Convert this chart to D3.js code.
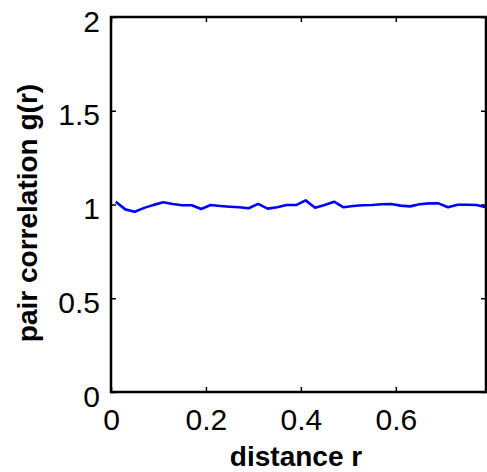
<!DOCTYPE html>
<html>
<head>
<meta charset="utf-8">
<script src="https://cdn.jsdelivr.net/npm/d3@7"></script>
<style>
  html, body { margin: 0; padding: 0; background: #fff; overflow: hidden; }
  svg { display: block; }
  .tick text { font-family: "Liberation Sans", Arial, sans-serif; font-size: 30px; fill: #000; }
</style>
</head>
<body>
<svg id="mySvg"></svg>
<script>
var svgWidth = 487;
var svgHeight = 472;

// distance r (bin centres) and pair correlation g(r)
var rValues = [0.01, 0.03, 0.05, 0.07, 0.09, 0.11, 0.13, 0.15, 0.17, 0.19,
               0.21, 0.23, 0.25, 0.27, 0.29, 0.31, 0.33, 0.35, 0.37, 0.39,
               0.41, 0.43, 0.45, 0.47, 0.49, 0.51, 0.53, 0.55, 0.57, 0.59,
               0.61, 0.63, 0.65, 0.67, 0.69, 0.71, 0.73, 0.75, 0.77, 0.79];
var gValues = [1.015, 0.974, 0.961, 0.982, 0.998, 1.012, 1.003, 0.996, 0.996, 0.976,
               0.997, 0.992, 0.988, 0.985, 0.980, 1.003, 0.978, 0.985, 0.997, 0.997,
               1.022, 0.983, 0.997, 1.015, 0.985, 0.992, 0.996, 0.997, 1.001, 1.003,
               0.994, 0.990, 1.001, 1.006, 1.006, 0.985, 0.999, 0.999, 0.997, 0.985];
var xTicks = [0, 0.2, 0.4, 0.6];
var yTicks = [0, 0.5, 1, 1.5, 2];

var data = rValues.map(function(r, i) { return {r: r, g: gValues[i]}; });

// plot box in pixels (right edge sits on the window border)
var mLeft = 111, mRight = 486, mTop = 17, mBottom = 392;

var xScale = d3.scaleLinear().domain([0, 0.79]).range([mLeft, mRight]);
var yScale = d3.scaleLinear().domain([0, 2]).range([mBottom, mTop]);

var svg = d3.select("#mySvg")
    .attr("width", svgWidth)
    .attr("height", svgHeight);

// data line
var line = d3.line()
    .x(d => xScale(d.r))
    .y(d => yScale(d.g));

svg.append("path")
    .datum(data)
    .attr("fill", "none")
    .attr("stroke", "#0000ff")
    .attr("stroke-width", 2.6)
    .attr("stroke-linejoin", "round")
    .attr("d", line);

// axes, ticks pointing inward like matlab
var x_axis = d3.axisBottom(xScale)
    .tickValues(xTicks)
    .tickSize(-5)
    .tickPadding(17)
    .tickFormat(d3.format("~g"));

var y_axis = d3.axisLeft(yScale)
    .tickValues(yTicks)
    .tickSize(-5)
    .tickPadding(11)
    .tickFormat(d3.format("~g"));

var gx = svg.append("g")
    .attr("transform", "translate(0," + mBottom + ")")
    .call(x_axis);

var gy = svg.append("g")
    .attr("transform", "translate(" + mLeft + ",0)")
    .call(y_axis);
gy.selectAll(".tick text").attr("dy", "0.47em");

var gxTop = svg.append("g")
    .attr("transform", "translate(0," + mTop + ")")
    .call(d3.axisTop(xScale).tickValues(xTicks).tickSize(-5).tickFormat(""));

var gyRight = svg.append("g")
    .attr("transform", "translate(" + mRight + ",0)")
    .call(d3.axisRight(yScale).tickValues(yTicks).tickSize(-5).tickFormat(""));

[gx, gy, gxTop, gyRight].forEach(function(g) {
    g.select(".domain").remove();
    g.selectAll(".tick line").attr("stroke", "#000").attr("stroke-width", 1.5);
});

// box
svg.append("rect")
    .attr("x", mLeft)
    .attr("y", mTop)
    .attr("width", mRight - mLeft)
    .attr("height", mBottom - mTop)
    .attr("fill", "none")
    .attr("stroke", "#000")
    .attr("stroke-width", 2.5);

// labels
svg.append("text")
    .attr("x", 296)
    .attr("y", 466)
    .attr("text-anchor", "middle")
    .attr("font-family", "Liberation Sans, Arial, sans-serif")
    .attr("font-weight", "bold")
    .attr("font-size", 28)
    .text("distance r");

svg.append("text")
    .attr("transform", "translate(37," + 213 + ") rotate(-90)")
    .attr("text-anchor", "middle")
    .attr("font-family", "Liberation Sans, Arial, sans-serif")
    .attr("font-weight", "bold")
    .attr("font-size", 28)
    .text("pair correlation g(r)");
</script>
</body>
</html>
